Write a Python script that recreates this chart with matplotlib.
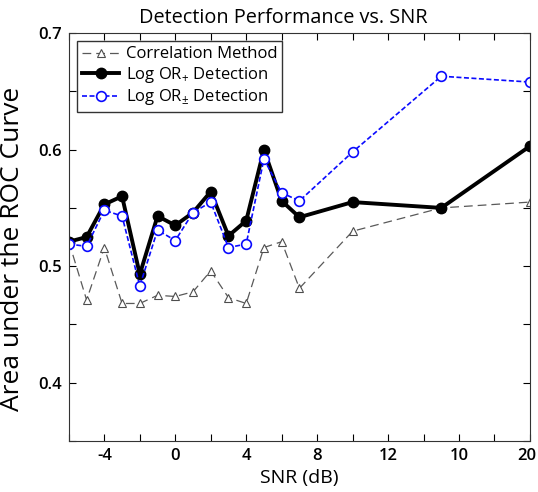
import matplotlib
matplotlib.use("Agg")
import matplotlib.pyplot as plt
import matplotlib.transforms as mtransforms
import numpy as np

plt.rcParams['font.family'] = ['Open Sans', 'DejaVu Sans']
plt.rcParams['mathtext.fontset'] = 'custom'
plt.rcParams['mathtext.rm'] = 'Open Sans'

# SNR values (dB)
snr = [-6, -5, -4, -3, -2, -1, 0, 1, 2, 3, 4, 5, 6, 7, 10, 15, 20]

# area under the ROC curve for each method
auc_corr = [0.521, 0.471, 0.516, 0.468, 0.468, 0.475, 0.474, 0.478, 0.496,
            0.473, 0.468, 0.516, 0.521, 0.481, 0.530, 0.550, 0.555]
auc_plus = [0.521, 0.525, 0.553, 0.560, 0.493, 0.543, 0.535, 0.546, 0.564,
            0.526, 0.539, 0.600, 0.556, 0.542, 0.555, 0.550, 0.603]
auc_pm = [0.519, 0.517, 0.548, 0.543, 0.483, 0.531, 0.522, 0.546, 0.555,
          0.516, 0.519, 0.592, 0.563, 0.556, 0.598, 0.663, 0.658]

xticks = [-4, 0, 4, 8, 12, 16, 20]
xticklabels = ['-4', '0', '4', '8', '12', '10', '20']
yticks = [0.4, 0.5, 0.6, 0.7]

fig = plt.figure(figsize=(5.38, 4.92), dpi=100)
ax = fig.add_axes([0.128, 0.1037, 0.857, 0.829])

ax.plot(snr, auc_corr, color='0.35', linestyle=(0, (7, 4)), linewidth=0.9,
        marker='^', markersize=6, markerfacecolor='white', markeredgecolor='0.3',
        markeredgewidth=0.8, label='Correlation Method')
ax.plot(snr, auc_plus, color='black', linewidth=2.8, marker='o', markersize=7.5,
        markerfacecolor='black', label='Log OR$_{+}$ Detection')
ax.plot(snr, auc_pm, color='#0a0aff', linestyle=(0, (3, 1.5)), linewidth=1.2,
        marker='o', markersize=7, markerfacecolor='white', markeredgecolor='#0a0aff',
        markeredgewidth=1.2, label='Log OR$_{\\pm}$ Detection')

ax.set_xlim(-6, 20)
ax.set_ylim(0.35, 0.7)
ax.set_xticks(xticks)
ax.set_xticklabels(xticklabels)
ax.set_xticks(np.arange(-6, 21, 2), minor=True)
ax.set_yticks(yticks)
ax.set_yticks(np.arange(0.35, 0.7, 0.05), minor=True)
ax.tick_params(which='both', direction='in', top=True, right=True, labelsize=12,
               length=5, width=0.8, pad=5)
for lbl in ax.get_xticklabels() + ax.get_yticklabels():
    lbl.set_fontweight('semibold')
# nudge the last x label inward so it stays inside the figure
last = ax.get_xticklabels()[-1]
last.set_transform(last.get_transform() +
                   mtransforms.ScaledTranslation(-3 / 100, 0, fig.dpi_scale_trans))
for s in ax.spines.values():
    s.set_linewidth(0.8)
    s.set_color('0.2')

ax.set_xlabel('SNR (dB)', fontsize=14, labelpad=4)
ax.set_ylabel('Area under the ROC Curve', fontsize=19)
ax.yaxis.set_label_coords(-0.095, 0.47)
ax.set_title('Detection Performance vs. SNR', fontsize=14.3, pad=7, x=0.466)

leg = ax.legend(loc='upper left', fontsize=12, frameon=True, fancybox=False,
                borderpad=0.3, handlelength=2.2, handletextpad=0.4,
                labelspacing=0.15, borderaxespad=0.5)
leg.get_frame().set_edgecolor('black')
leg.get_frame().set_linewidth(1.0)

fig.savefig('out.png', dpi=100)
